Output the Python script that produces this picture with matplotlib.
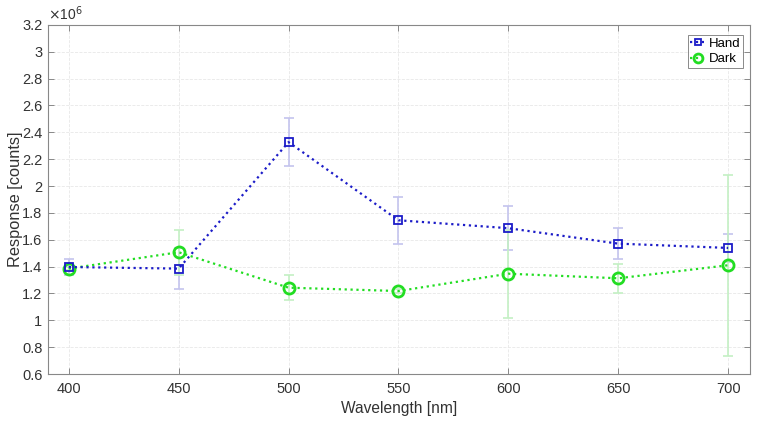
import matplotlib
matplotlib.use("Agg")
import matplotlib.pyplot as plt
from matplotlib.ticker import FuncFormatter, MultipleLocator

plt.rcParams['font.family'] = ['Liberation Sans', 'DejaVu Sans']

wavelength = [400, 450, 500, 550, 600, 650, 700]
# values in units of 1e6 counts
hand = [1.397, 1.385, 2.327, 1.745, 1.686, 1.571, 1.539]
hand_err = [0.062, 0.152, 0.18, 0.174, 0.162, 0.117, 0.106]
dark = [1.385, 1.507, 1.243, 1.218, 1.347, 1.313, 1.41]
dark_err = [0.01, 0.166, 0.093, 0.015, 0.327, 0.109, 0.675]

fig = plt.figure(figsize=(7.6, 4.22), dpi=100)
ax = fig.add_axes([0.063, 0.1137, 0.924, 0.8273])

blue = '#1c1cc8'
green = '#22dd22'
ax.errorbar(wavelength, hand, yerr=hand_err, fmt='none', ecolor='#c4c4ee',
            elinewidth=1.2, capsize=3.6, capthick=1.2, zorder=2)
ax.errorbar(wavelength, dark, yerr=dark_err, fmt='none', ecolor='#c4f0c4',
            elinewidth=1.2, capsize=3.6, capthick=1.2, zorder=2)
ax.plot(wavelength, hand, linestyle=':', color=blue, linewidth=1.6,
        marker='s', markersize=5.5, markerfacecolor='none', markeredgecolor=blue,
        markeredgewidth=1.3, label='Hand', zorder=4)
ax.plot(wavelength, dark, linestyle=':', color=green, linewidth=1.6,
        marker='o', markersize=8, markerfacecolor='none', markeredgecolor=green,
        markeredgewidth=2.0, label='Dark', zorder=3)

ax.set_xlim(390.5, 710)
ax.set_ylim(0.6, 3.2)
ax.set_xticks(wavelength)
ax.yaxis.set_major_locator(MultipleLocator(0.2))
ax.yaxis.set_major_formatter(FuncFormatter(lambda v, p: f"{v:.1f}".rstrip('0').rstrip('.')))
ax.tick_params(direction='in', length=4, width=0.7, colors='#888888',
               labelcolor='#333333', labelsize=10.5, top=True, right=True)
ax.tick_params(axis='y', pad=4)
ax.tick_params(axis='x', pad=6)
ax.grid(True, linestyle='--', linewidth=0.6, color='#e8e8e8')
ax.set_axisbelow(True)
for s in ax.spines.values():
    s.set_color('#888888')
    s.set_linewidth(0.8)

ax.set_xlabel('Wavelength [nm]', fontsize=11.2, color='#333333', labelpad=3)
ax.set_ylabel('Response [counts]', fontsize=11.8, color='#333333')
ax.yaxis.set_label_coords(-0.036, 0.5)
ax.text(0.0, 1.005, r'$\times$10$^6$', transform=ax.transAxes, fontsize=10,
        color='#333333', ha='left', va='bottom')

leg = ax.legend(loc='upper right', bbox_to_anchor=(1 - 7/702, 1 - 10/349),
                fontsize=9.5, frameon=True, fancybox=False,
                borderpad=0.2, labelspacing=0.25, handlelength=1.2, handletextpad=0.2,
                borderaxespad=0.0, markerscale=0.8)
leg.get_frame().set_edgecolor('#555555')
leg.get_frame().set_linewidth(0.6)

fig.savefig('out.png', dpi=100)
